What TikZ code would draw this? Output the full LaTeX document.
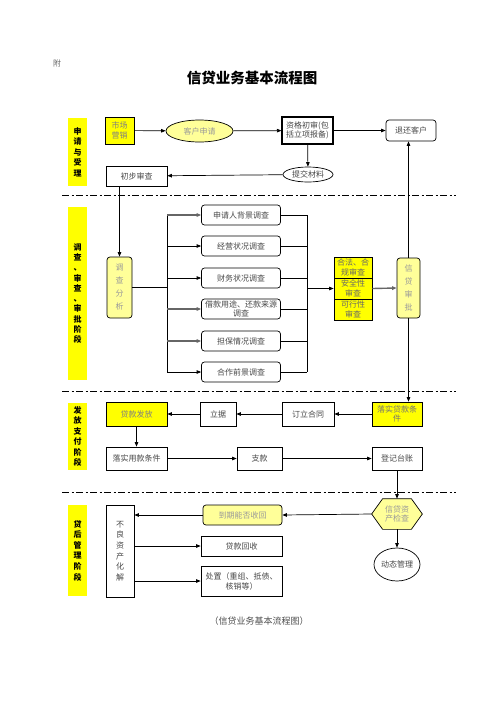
\documentclass[tikz,border=0pt]{standalone}
\usepackage{fontspec}
\setmainfont{Noto Sans CJK SC}
\usetikzlibrary{shapes.geometric,arrows.meta,calc}
\definecolor{ylw}{HTML}{FFFF00}
\definecolor{ylt}{HTML}{FFFF99}
\begin{document}
\begin{tikzpicture}[x=1pt,y=-1pt,
  line width=0.7pt,
  arr/.style={-{Triangle[length=4.5pt,width=3.5pt]}},
  garr/.style={-{Triangle[length=4.5pt,width=3.5pt]},draw=black!60,line width=1.4pt},
  base/.style={inner sep=0pt,align=center,font=\fontsize{8}{9.6}\selectfont,text=black!72},
  box/.style={base,draw,rectangle},
  rbox/.style={base,draw,rectangle,rounded corners=3pt},
  ybox/.style={box,fill=ylw},
  yrbox/.style={rbox,fill=ylt,text=black!40},
  ell/.style={base,draw,ellipse},
  stage/.style={inner sep=0pt,fill=ylw,minimum width=19pt,align=center,font=\bfseries\fontsize{8}{10.5}\selectfont},
  sep/.style={dash pattern=on 7pt off 2.5pt on 2pt off 2.5pt,line width=0.8pt}
]
\useasboundingbox (0,0) rectangle (496,702);

% header
\node[font=\fontsize{8}{9}\selectfont,text=black!60] (fu) at (57,63) {附};
\node[font=\bfseries\fontsize{14.5}{16}\selectfont] (title) at (252,78) {信贷业务基本流程图};
\node[font=\fontsize{9}{10}\selectfont,text=black!70] (cap) at (259,621) {（信贷业务基本流程图）};

% separators
\draw[sep] (62,195) -- (456,195);
\draw[sep] (62,391) -- (456,391);
\draw[sep] (62,492) -- (456,492);

% stage labels
\node[stage,minimum height=68pt] (st1) at (77.5,152) {申\\请\\与\\受\\理};
\node[stage,minimum height=173pt,font=\bfseries\fontsize{8}{10.3}\selectfont] (st2) at (77.5,293.5) {调\\查\\、\\审\\查\\、\\审\\批\\阶\\段};
\node[stage,minimum height=67pt,font=\bfseries\fontsize{8}{10.4}\selectfont] (st3) at (77.5,436.5) {发\\放\\支\\付\\阶\\段};
\node[stage,minimum height=91pt,font=\bfseries\fontsize{8}{10.6}\selectfont] (st4) at (77.5,550.5) {贷\\后\\管\\理\\阶\\段};

% stage 1
\node[ybox,minimum width=29pt,minimum height=27pt,text=black!50] (sc) at (119.5,130.5) {市场\\营销};
\node[ell,fill=ylt,minimum width=67pt,minimum height=22pt,text=black!40] (kh) at (199.5,131) {客户申请};
\node[box,line width=1.1pt,minimum width=51pt,minimum height=27pt] (zg) at (307.5,130.5) {资格初审(包\\括立项报备)};
\node[rbox,minimum width=50pt,minimum height=21pt] (th) at (411,130.5) {退还客户};
\node[ell,minimum width=50pt,minimum height=15pt] (tj) at (308,174.5) {提交材料};
\node[box,minimum width=61pt,minimum height=20pt] (cb) at (136.5,176) {初步审查};

\draw[arr] (sc) -- (kh);
\draw[arr] (kh) -- (zg);
\draw[arr] (zg) -- (th);
\draw[arr] (zg) -- (tj);
\draw[arr] (tj) -- (cb);

% stage 2
\node[yrbox,minimum width=25pt,minimum height=61pt,font=\fontsize{8}{13}\selectfont] (dc) at (119.5,287.5) {调\\查\\分\\析};
\draw[arr] (dc.north |- cb.south) -- (dc.north);

\node[rbox,minimum width=79pt,minimum height=20pt] (b1) at (241,215) {申请人背景调查};
\node[rbox,minimum width=79pt,minimum height=20pt] (b2) at (241,246) {经营状况调查};
\node[rbox,minimum width=79pt,minimum height=20pt] (b3) at (241,278) {财务状况调查};
\node[rbox,minimum width=79pt,minimum height=20pt,font=\fontsize{8}{9}\selectfont] (b4) at (241,309) {借款用途、还款来源\\调查};
\node[rbox,minimum width=79pt,minimum height=20pt] (b5) at (241,341) {担保情况调查};
\node[rbox,minimum width=79pt,minimum height=20pt] (b6) at (241,372) {合作前景调查};

\coordinate (bl) at (167,287.5);
\coordinate (br) at (307,288.5);
\draw (dc.east) -- (bl);
\draw (b1.west -| bl) -- (b6.west -| bl);
\draw[garr] (b1.west -| bl) -- (b1.west);
\draw[arr] (b2.west -| bl) -- (b2.west);
\draw[arr] (b3.west -| bl) -- (b3.west);
\draw[garr] (b4.west -| bl) -- (b4.west);
\draw[garr] (b5.west -| bl) -- (b5.west);
\draw[arr] (b6.west -| bl) -- (b6.west);
\draw (b1.east -| br) -- (b6.east -| br);
\foreach \b in {b1,b2,b3,b4,b5,b6} \draw (\b.east) -- (\b.east -| br);

\node[ybox,minimum width=38pt,minimum height=21pt,font=\fontsize{8}{9.5}\selectfont,text=black!60] (s1) at (353,267.5) {合法、合\\规审查};
\node[ybox,minimum width=38pt,minimum height=21pt,font=\fontsize{8}{9.5}\selectfont,text=black!60] (s2) at (353,288.5) {安全性\\审查};
\node[ybox,minimum width=38pt,minimum height=21pt,font=\fontsize{8}{9.5}\selectfont,text=black!60] (s3) at (353,309.5) {可行性\\审查};
\draw[arr] (br) -- (s2.west);

\node[yrbox,minimum width=23pt,minimum height=60pt,font=\fontsize{8}{13}\selectfont] (sp) at (408.5,288) {信\\贷\\审\\批};
\draw[garr] (s2.east) -- (sp.west);
\draw[arr] (sp.north) -- (sp.north |- th.south);

% stage 3
\node[ybox,minimum width=61pt,minimum height=24pt,text=black!50] (fk) at (136.5,414) {贷款发放};
\node[box,minimum width=36pt,minimum height=24pt] (lj) at (218,414) {立据};
\node[box,minimum width=52pt,minimum height=24pt] (dl) at (308,414) {订立合同};
\node[ybox,minimum width=50pt,minimum height=24pt,text=black!55] (lk) at (397,414) {落实贷款条\\件};
\draw[arr] (sp.south) -- (sp.south |- lk.north);
\draw[arr] (lk) -- (dl);
\draw[arr] (dl) -- (lj);
\draw[arr] (lj) -- (fk);

\node[box,minimum width=61pt,minimum height=23pt] (yy) at (136.5,458.5) {落实用款条件};
\node[box,minimum width=45pt,minimum height=23pt] (zk) at (259.5,458.5) {支款};
\node[box,minimum width=50pt,minimum height=23pt] (dj) at (397,458.5) {登记台账};
\draw[arr] (fk) -- (yy);
\draw[arr] (yy) -- (zk);
\draw[arr] (zk) -- (dj);

% stage 4
\node[base,minimum width=50pt,minimum height=30pt,text=black!40] (zc) at (397,514) {信贷资\\产检查};
\draw[fill=ylt] (zc.west) -- ($(zc.north west)+(11,0)$) -- ($(zc.north east)+(-11,0)$) -- (zc.east) -- ($(zc.south east)+(-11,0)$) -- ($(zc.south west)+(11,0)$) -- cycle;
\node[base,text=black!40] at (zc.center) {信贷资\\产检查};
\draw[arr] (dj) -- (zc);

\node[yrbox,minimum width=79pt,minimum height=20pt] (dq) at (242.5,515) {到期能否收回};
\node[box,minimum width=28pt,minimum height=92pt,font=\fontsize{8}{10.6}\selectfont] (bl2) at (120,551) {不\\良\\资\\产\\化\\解};
\node[box,minimum width=81pt,minimum height=20pt] (hs) at (241.5,546) {贷款回收};
\node[box,minimum width=81pt,minimum height=30pt,font=\fontsize{8}{10}\selectfont] (cz) at (241.5,581) {处置（重组、抵债、\\核销等）};
\node[ell,minimum width=46pt,minimum height=33pt] (dt) at (397,564.5) {动态管理};

\draw[arr] (zc.west) -- (dq.east);
\draw[arr] (dq.west) -- (bl2.east |- dq.west);
\draw[arr] (bl2.east |- hs.west) -- (hs.west);
\draw[arr] (bl2.east |- cz.west) -- (cz.west);
\draw[arr] (zc.south) -- (dt.north);
\end{tikzpicture}
\end{document}
